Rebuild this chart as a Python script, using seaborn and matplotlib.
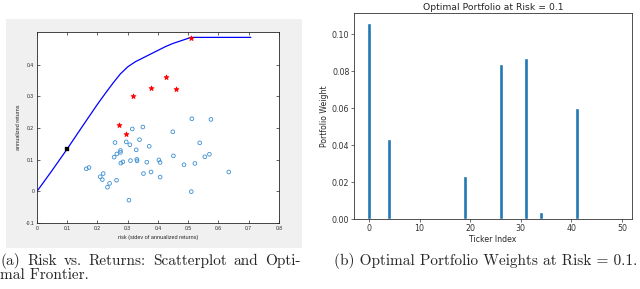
import numpy as np
import pandas as pd
import matplotlib
matplotlib.use("Agg")
import matplotlib.pyplot as plt
import seaborn as sns

# ---- data ----
# (a) individual assets: risk (stdev) vs annualized return
asset_risk = [0.512, 0.575, 0.350, 0.315, 0.449, 0.538, 0.258, 0.339, 0.295, 0.307,
              0.371, 0.328, 0.276, 0.276, 0.264, 0.255, 0.570, 0.555, 0.451, 0.330,
              0.331, 0.309, 0.403, 0.407, 0.363, 0.284, 0.277, 0.522, 0.486, 0.172,
              0.163, 0.377, 0.634, 0.352, 0.219, 0.209, 0.407, 0.216, 0.263, 0.240,
              0.233, 0.510, 0.304]
asset_ret = [0.229, 0.227, 0.203, 0.197, 0.188, 0.153, 0.154, 0.163, 0.156, 0.147,
             0.142, 0.131, 0.129, 0.123, 0.118, 0.108, 0.117, 0.109, 0.112, 0.101,
             0.096, 0.097, 0.099, 0.091, 0.092, 0.093, 0.089, 0.088, 0.084, 0.075,
             0.071, 0.061, 0.061, 0.056, 0.056, 0.046, 0.045, 0.037, 0.035, 0.025,
             0.013, -0.001, -0.028]
# highlighted assets (red)
sel_risk = [0.508, 0.427, 0.377, 0.461, 0.318, 0.272, 0.294]
sel_ret = [0.485, 0.362, 0.326, 0.323, 0.300, 0.208, 0.181]
# optimal frontier
front_risk = [0.0, 0.05, 0.1, 0.15, 0.2, 0.225, 0.25, 0.275, 0.3, 0.325, 0.35,
              0.375, 0.4, 0.425, 0.45, 0.475, 0.5, 0.508, 0.707]
front_ret = [0.0, 0.066, 0.134, 0.205, 0.275, 0.308, 0.340, 0.370, 0.393, 0.409, 0.421,
             0.433, 0.445, 0.457, 0.467, 0.475, 0.483, 0.486, 0.486]
# chosen point at risk = 0.1
opt_risk = [0.1]
opt_ret = [0.134]

# (b) optimal weights at risk = 0.1 (50 tickers, only a few non-zero)
n_tickers = 50
nonzero_idx = [0, 4, 19, 26, 31, 34, 41]
nonzero_w = [0.106, 0.0433, 0.0233, 0.0837, 0.0873, 0.0037, 0.0603]

caption_a = ['(a) Risk vs. Returns: Scatterplot and Opti-', 'mal Frontier.']
caption_b = '(b) Optimal Portfolio Weights at Risk = 0.1.'

weights = np.zeros(n_tickers)
weights[nonzero_idx] = nonzero_w
weights_df = pd.DataFrame({'ticker': np.arange(n_tickers), 'weight': weights})

sns.set_style('ticks')

fig = plt.figure(figsize=(6.4, 2.89), dpi=100)

# grey MATLAB-style figure background behind panel (a)
fig.patches.append(plt.Rectangle((0.0094, 0.1419), 0.4625, 0.7924, transform=fig.transFigure,
                                 facecolor='#f0f0f0', edgecolor='none', zorder=-1))

# ---- panel (a) ----
ax1 = fig.add_axes([0.0578, 0.2284, 0.3781, 0.6609])
ax1.set_zorder(2)
ax1.set_facecolor('white')
sns.lineplot(x=front_risk, y=front_ret, ax=ax1, color='#0000ff', linewidth=0.9,
             sort=False, estimator=None)
sns.scatterplot(x=asset_risk, y=asset_ret, ax=ax1, marker='o', s=7,
                facecolor='none', edgecolor='#3a8ed3', linewidth=0.6)
sns.scatterplot(x=sel_risk, y=sel_ret, ax=ax1, marker='*', s=13,
                color='#ff0000', edgecolor='#ff0000', linewidth=0.6, zorder=4)
sns.scatterplot(x=opt_risk, y=opt_ret, ax=ax1, marker='s', s=8,
                color='black', edgecolor='black', zorder=5)

ax1.set_xlim(0, 0.8)
ax1.set_ylim(-0.1, 0.503)
ax1.set_xticks(np.arange(0, 0.81, 0.1))
ax1.set_xticklabels(['0', '0.1', '0.2', '0.3', '0.4', '0.5', '0.6', '0.7', '0.8'])
ax1.set_yticks(np.arange(-0.1, 0.41, 0.1))
ax1.set_yticklabels(['-0.1', '0', '0.1', '0.2', '0.3', '0.4'])
ax1.tick_params(direction='in', length=2, width=0.5, labelsize=3.6, pad=2,
                top=True, right=True, colors='#262626', labelcolor='#262626')
for s in ax1.spines.values():
    s.set_linewidth(0.6)
    s.set_color('#262626')
ax1.set_xlabel('risk (stdev of annualized returns)', fontsize=4.0, labelpad=3,
               family='Liberation Sans', color='#262626')
ax1.set_ylabel('annualized returns', fontsize=4.0, labelpad=3.5,
               family='Liberation Sans', color='#262626')
for lab in ax1.get_xticklabels() + ax1.get_yticklabels():
    lab.set_family('Liberation Sans')

# ---- panel (b) ----
ax2 = fig.add_axes([0.5536, 0.2412, 0.4334, 0.7128])
sns.barplot(data=weights_df, x='ticker', y='weight', ax=ax2, native_scale=True,
            color='#1f77b4', saturation=1, width=0.8)
ax2.set_xlim(-2.89, 51.89)
ax2.set_ylim(0, 0.1113)
ax2.set_xticks([0, 10, 20, 30, 40, 50])
ax2.set_yticks(np.arange(0, 0.101, 0.02))
ax2.yaxis.set_major_formatter(matplotlib.ticker.FormatStrFormatter('%.2f'))
ax2.tick_params(length=2, width=0.5, labelsize=5.7, pad=1.5, colors='#333333')
for s in ax2.spines.values():
    s.set_linewidth(0.6)
    s.set_color('#333333')
ax2.set_title('Optimal Portfolio at Risk = 0.1', fontsize=6.7, pad=2.5)
ax2.set_xlabel('Ticker Index', fontsize=5.6, labelpad=1.5)
ax2.set_ylabel('Portfolio Weight', fontsize=5.6, labelpad=2)

# ---- sub-captions (line 1 of (a) is justified like LaTeX would) ----
cap = dict(fontsize=11.0, family='cmr10', va='center')
W, H = 640, 289
renderer = fig.canvas.get_renderer()
words = caption_a[0].split(' ')
widths = []
for w in words:
    t = fig.text(0, 0, w, **cap)
    widths.append(t.get_window_extent(renderer).width)
    t.remove()
line_w = 300.0
gap = (line_w - sum(widths)) / (len(words) - 1)
x = 0.5
for w, wd in zip(words, widths):
    fig.text(x / W, 1 - 261 / H, w, ha='left', **cap)
    x += wd + gap
fig.text(0.5 / W, 1 - 275 / H, caption_a[1], ha='left', **cap)
fig.text(637 / W, 1 - 261 / H, caption_b, ha='right', **cap)

fig.savefig('out.png', dpi=100)
